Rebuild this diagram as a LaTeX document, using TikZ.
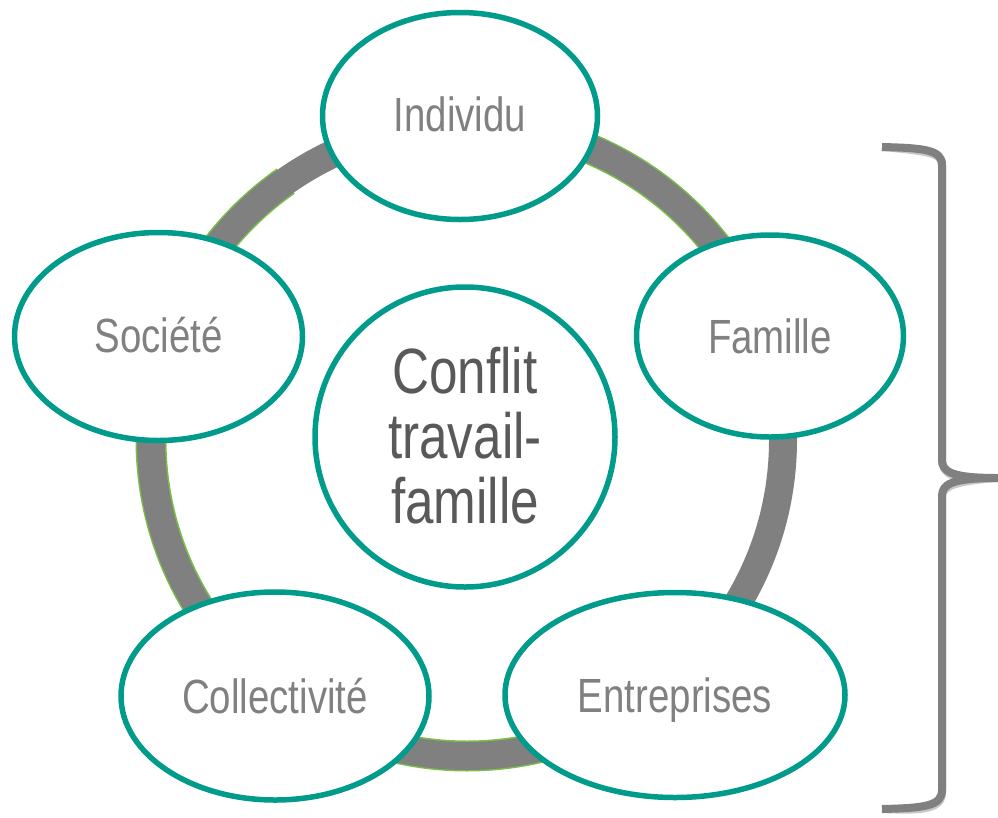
\documentclass[tikz,border=0pt]{standalone}
\usepackage{fontspec}
\setmainfont{Liberation Sans}[FakeStretch=0.8]
\usetikzlibrary{shapes.geometric}
\definecolor{teal1}{RGB}{0,155,138}
\definecolor{ringgray}{RGB}{128,128,128}
\definecolor{ringgreen}{RGB}{122,192,72}
\definecolor{labelgray}{RGB}{128,128,128}
\definecolor{centergray}{RGB}{89,89,89}
\definecolor{shadowgray}{RGB}{200,200,200}
\tikzset{
  bubble/.style={ellipse, draw=teal1, line width=5.5pt, fill=white, inner sep=0pt,
    text=labelgray, text depth=0pt, font=\fontsize{48}{50}\selectfont},
  hub/.style={circle, draw=teal1, line width=5.5pt, fill=white, inner sep=0pt},
  hubtext/.style={text=centergray, align=center, inner sep=0pt,
    font=\fontsize{64}{65}\selectfont},
  ringband/.style={draw=ringgray, line width=28pt},
  ringedge/.style={draw=ringgreen, line width=31pt},
  bracketline/.style={draw=ringgray, line width=8pt, line join=round, line cap=butt},
  bracketshadow/.style={draw=shadowgray, line width=8pt, line join=round, line cap=butt}
}
\begin{document}
\begin{tikzpicture}[x=1pt,y=-1pt]
\useasboundingbox (0,0) rectangle (998,817);
\coordinate (rc) at (467,440);
% ring with green edges on some segments
\draw[ringedge] (rc) ++(-80:316) arc[start angle=-80, end angle=-20, radius=316];
\draw[ringedge] (rc) ++(60:316) arc[start angle=60, end angle=120, radius=316];
\draw[ringedge] (rc) ++(140:316) arc[start angle=140, end angle=235, radius=316];
\draw[ringband] (rc) circle[radius=316];
% bracket
\coordinate (b1) at (882,147);
\coordinate (b2) at (942,165);
\coordinate (b3) at (942,460);
\coordinate (tip) at (998,478);
\coordinate (b4) at (942,496);
\coordinate (b5) at (942,790);
\coordinate (b6) at (882,809);
\begin{scope}[shift={(1,3)}]
\draw[bracketshadow] (b1) .. controls (925,148) and (942,150) .. (b2) -- (b3)
  .. controls (942,472) and (952,478) .. (tip)
  .. controls (952,478) and (942,484) .. (b4) -- (b5)
  .. controls (942,806) and (925,808) .. (b6);
\end{scope}
\draw[bracketline] (b1) .. controls (925,148) and (942,150) .. (b2) -- (b3)
  .. controls (942,472) and (952,478) .. (tip)
  .. controls (952,478) and (942,484) .. (b4) -- (b5)
  .. controls (942,806) and (925,808) .. (b6);
% nodes
\node[bubble, minimum width=275pt, minimum height=207pt] (ind) at (460,116) {\raisebox{3pt}{Individu}};
\node[bubble, minimum width=267pt, minimum height=202pt] (fam) at (770,336) {Famille};
\node[bubble, minimum width=288pt, minimum height=208pt] (soc) at (158.5,336.5) {\raisebox{3pt}{Société}};
\node[bubble, minimum width=308pt, minimum height=208pt] (col) at (275,696) {Collectivité};
\node[bubble, minimum width=340pt, minimum height=205pt] (ent) at (675,695) {Entreprises};
\node[hub, minimum size=300pt] (ctr) at (465,437) {};
\node[hubtext] (ctrtext) at (465,436) {Conflit\\travail-\\famille};
\end{tikzpicture}
\end{document}
